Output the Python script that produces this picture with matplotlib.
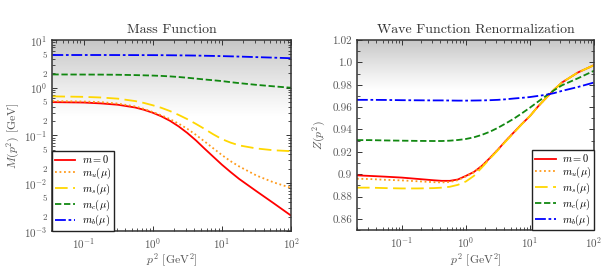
import numpy as np
import matplotlib
matplotlib.use('Agg')
import matplotlib.pyplot as plt
from matplotlib import ticker

plt.rcParams['font.family'] = 'serif'
plt.rcParams['font.serif'] = ['cmr10', 'DejaVu Serif']
plt.rcParams['mathtext.fontset'] = 'cm'
plt.rcParams['axes.unicode_minus'] = False
plt.rcParams['axes.formatter.use_mathtext'] = True

# ---- data (log10 of p^2 in GeV^2) ----
logp_M = [-1.45, -1.0, -0.75, -0.5, -0.25, -0.125, 0.0, 0.125, 0.25, 0.375,
          0.5, 0.625, 0.75, 0.875, 1.0, 1.125, 1.25, 1.5, 1.75, 2.0]
M_0 = [0.50, 0.49, 0.47, 0.44, 0.385, 0.345, 0.30, 0.252, 0.203, 0.155,
       0.113, 0.079, 0.053, 0.036, 0.0245, 0.0172, 0.0123, 0.0068, 0.0038, 0.0021]
M_u = [0.525, 0.515, 0.50, 0.465, 0.405, 0.36, 0.31, 0.265, 0.22, 0.177,
       0.138, 0.103, 0.075, 0.054, 0.039, 0.029, 0.0225, 0.0145, 0.0104, 0.0080]
M_s = [0.66, 0.645, 0.625, 0.59, 0.525, 0.48, 0.43, 0.38, 0.325, 0.27,
       0.22, 0.175, 0.137, 0.106, 0.084, 0.071, 0.062, 0.0535, 0.049, 0.047]
M_c = [1.90, 1.89, 1.885, 1.87, 1.84, 1.82, 1.80, 1.77, 1.73, 1.68,
       1.62, 1.555, 1.49, 1.435, 1.38, 1.31, 1.25, 1.15, 1.07, 1.00]
M_b = [4.85, 4.85, 4.85, 4.84, 4.83, 4.825, 4.82, 4.81, 4.79, 4.77,
       4.75, 4.72, 4.68, 4.64, 4.60, 4.55, 4.50, 4.38, 4.27, 4.15]

logp_Z = [-1.70, -1.5, -1.25, -1.0, -0.75, -0.5, -0.375, -0.25, -0.125, 0.0, 0.125, 0.25, 0.375,
          0.5, 0.625, 0.75, 0.875, 1.0, 1.125, 1.25, 1.375, 1.5, 1.75, 2.0]
Z_0 = [0.899, 0.8985, 0.8978, 0.897, 0.8958, 0.8946, 0.8941, 0.8941, 0.8953, 0.8985, 0.902, 0.9075, 0.9145,
       0.922, 0.930, 0.9375, 0.945, 0.952, 0.9605, 0.968, 0.9755, 0.982, 0.991, 0.9975]
Z_u = [0.896, 0.8957, 0.895, 0.8945, 0.8937, 0.8929, 0.8927, 0.8931, 0.8947, 0.898, 0.9017, 0.9073, 0.9145,
       0.922, 0.930, 0.9375, 0.945, 0.952, 0.9605, 0.968, 0.9755, 0.982, 0.991, 0.9975]
Z_s = [0.888, 0.888, 0.8876, 0.8873, 0.8873, 0.8876, 0.888, 0.8888, 0.8905, 0.8935, 0.8985, 0.906, 0.9138,
       0.9215, 0.9295, 0.937, 0.9448, 0.952, 0.9605, 0.968, 0.9755, 0.982, 0.991, 0.9975]
Z_c = [0.9305, 0.9305, 0.9302, 0.930, 0.9298, 0.9297, 0.9297, 0.930, 0.9306, 0.9315, 0.933, 0.9352, 0.938,
       0.9415, 0.9455, 0.9497, 0.9545, 0.9595, 0.9648, 0.970, 0.975, 0.9795, 0.9858, 0.9925]
Z_b = [0.9665, 0.9665, 0.9664, 0.9662, 0.9661, 0.966, 0.966, 0.9659, 0.9658, 0.9658, 0.9659, 0.966, 0.9662,
       0.9665, 0.967, 0.9677, 0.9683, 0.969, 0.970, 0.971, 0.9725, 0.9745, 0.978, 0.982]

labels = [r'$m=0$', r'$m_u(\mu)$', r'$m_s(\mu)$', r'$m_c(\mu)$', r'$m_b(\mu)$']
colors = ['#ff0000', '#ff9a1a', '#ffd700', '#118811', '#0000ff']
styles = [dict(ls='-'), dict(ls=(0, (1, 1.5))), dict(ls=(0, (7, 3))),
          dict(ls=(0, (3.5, 1.5))), dict(ls=(0, (6, 1.5, 1.5, 1.5)))]

gray = '#555555'


def shade(ax, frac):
    # grey gradient at the top of the axes, fading to white
    n = 256
    g = np.linspace(0, 1, n)
    a = np.clip(1 - g / frac, 0, 1)
    rgba = np.ones((n, 1, 4))
    rgba[:, 0, :3] = 0.78
    rgba[:, 0, 3] = a ** 1.1
    ax.imshow(rgba, extent=[0, 1, 0, 1], transform=ax.transAxes,
              aspect='auto', origin='upper', zorder=0, interpolation='bilinear')


def style_axes(ax):
    ax.tick_params(which='both', direction='in', top=True, right=True,
                   colors='#333333', labelcolor=gray, labelsize=8)
    ax.tick_params(which='major', length=3.5, width=0.7)
    ax.tick_params(which='minor', length=2, width=0.6)
    for s in ax.spines.values():
        s.set_linewidth(1.1)
        s.set_color('#333333')


def minor_fmt(v, pos):
    e = np.floor(np.log10(v))
    d = int(round(v / 10 ** e))
    return str(d) if d in (2, 5) else ''


def add_legend(ax, loc):
    leg = ax.legend(loc=loc, fontsize=7.5, fancybox=False, framealpha=1,
                    borderaxespad=0, handlelength=2.0, handletextpad=0.6,
                    labelspacing=0.05, borderpad=0.25)
    leg.get_frame().set_edgecolor('#222222')
    leg.get_frame().set_linewidth(1.0)


fig = plt.figure(figsize=(6.13, 2.74), dpi=100)
ax1 = fig.add_axes([0.0848, 0.157, 0.390, 0.697])
ax2 = fig.add_axes([0.5824, 0.160, 0.3866, 0.694])

# mass function
shade(ax1, 0.40)
for y, lab, c, st in zip([M_0, M_u, M_s, M_c, M_b], labels, colors, styles):
    ax1.plot(10 ** np.array(logp_M), y, color=c, lw=1.3, label=lab, **st)
ax1.set_xscale('log')
ax1.set_yscale('log')
ax1.set_xlim(0.035, 100)
ax1.set_ylim(1e-3, 10)
ax1.yaxis.set_minor_locator(ticker.LogLocator(base=10, subs=np.arange(2, 10), numticks=20))
ax1.yaxis.set_minor_formatter(ticker.FuncFormatter(minor_fmt))
ax1.xaxis.set_minor_locator(ticker.LogLocator(base=10, subs=np.arange(2, 10), numticks=20))
ax1.xaxis.set_minor_formatter(ticker.NullFormatter())
style_axes(ax1)
ax1.tick_params(axis='y', which='minor', labelsize=6.5)
ax1.set_title('Mass Function', fontsize=10, color='#333333', pad=5)
ax1.set_xlabel(r'$p^2$ [GeV$^2$]', fontsize=8.5, color=gray, labelpad=1)
ax1.set_ylabel(r'$M(p^2)$ [GeV]', fontsize=8.5, color=gray, labelpad=1)
add_legend(ax1, 'lower left')

# wave function renormalization
shade(ax2, 0.27)
for y, lab, c, st in zip([Z_0, Z_u, Z_s, Z_c, Z_b], labels, colors, styles):
    ax2.plot(10 ** np.array(logp_Z), y, color=c, lw=1.3, label=lab, **st)
ax2.set_xscale('log')
ax2.set_xlim(0.02, 100)
ax2.set_ylim(0.85, 1.02)
ax2.yaxis.set_major_locator(ticker.MultipleLocator(0.02))
ax2.yaxis.set_minor_locator(ticker.MultipleLocator(0.01))


def zfmt(v, pos):
    s = '%.2f' % v
    if s.endswith('0'):
        s = s[:-1]
    return s


ax2.yaxis.set_major_formatter(ticker.FuncFormatter(zfmt))
ax2.xaxis.set_minor_locator(ticker.LogLocator(base=10, subs=np.arange(2, 10), numticks=20))
ax2.xaxis.set_minor_formatter(ticker.NullFormatter())
style_axes(ax2)
ax2.set_title('Wave Function Renormalization', fontsize=10, color='#333333', pad=5)
ax2.set_xlabel(r'$p^2$ [GeV$^2$]', fontsize=8.5, color=gray, labelpad=1)
ax2.set_ylabel(r'$Z(p^2)$', fontsize=8.5, color=gray, labelpad=3)
add_legend(ax2, 'lower right')

fig.savefig('out.png', dpi=100)
